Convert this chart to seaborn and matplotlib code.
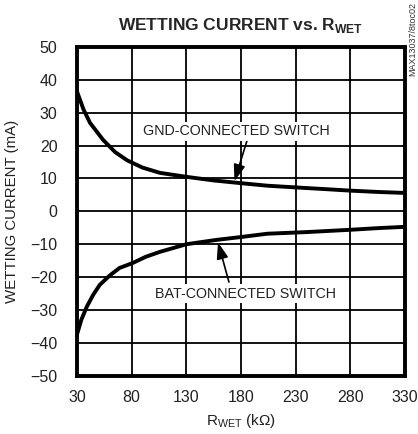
import numpy as np
import pandas as pd
import matplotlib
matplotlib.use("Agg")
import matplotlib.pyplot as plt
import seaborn as sns

# values
r_gnd = [30, 36, 42, 54, 65, 76, 90, 106, 130, 155, 179, 204, 234, 260, 280, 305, 330]
i_gnd = [36.5, 31.0, 26.9, 21.7, 18.0, 15.5, 13.3, 11.7, 10.5, 9.4, 8.6, 7.8, 7.2, 6.7, 6.3, 5.9, 5.6]
r_bat = [30, 34, 39, 45, 51, 60, 69, 81, 93, 106, 130, 157, 180, 204, 240, 280, 305, 330]
i_bat = [-37.5, -33.0, -29.0, -25.3, -22.3, -19.5, -17.2, -15.7, -13.8, -12.3, -10.0, -8.7, -7.8, -6.8, -6.3, -5.6, -5.1, -4.7]

x_ticks = [30, 80, 130, 180, 230, 280, 330]
y_ticks = list(range(-50, 51, 10))

sns.set_style("white")
plt.rcParams['font.family'] = ['Liberation Sans', 'DejaVu Sans']
plt.rcParams['mathtext.fontset'] = 'custom'
plt.rcParams['mathtext.rm'] = 'Liberation Sans'

df = pd.concat([
    pd.DataFrame({'r': r_gnd, 'i': i_gnd, 'sw': 'GND'}),
    pd.DataFrame({'r': r_bat, 'i': i_bat, 'sw': 'BAT'}),
])

fig = plt.figure(figsize=(4.18, 4.34), dpi=100)
ax = fig.add_axes([0.184, 0.134, 0.785, 0.758])

sns.lineplot(data=df, x='r', y='i', units='sw', estimator=None, color='black',
             linewidth=2.8, ax=ax, zorder=3)

ax.set_xlim(30, 330)
ax.set_ylim(-50, 50)
ax.set_xticks(x_ticks)
ax.set_yticks(y_ticks)
ax.grid(True, color='black', linewidth=1.3)
ax.set_axisbelow(True)
for s in ax.spines.values():
    s.set_linewidth(2.8)
    s.set_color('black')
ax.tick_params(axis='both', length=0, labelsize=11.5, colors='#222222')
ax.tick_params(axis='x', pad=10)
ax.tick_params(axis='y', pad=14)

ax.set_xlabel(r'R$_{\mathregular{WET}}$ (k$\Omega$)', fontsize=11, color='#222222', labelpad=5)
ax.set_ylabel('WETTING CURRENT (mA)', fontsize=10.8, color='#222222', labelpad=8)
ax.set_title(r'WETTING CURRENT vs. R$_{\mathregular{WET}}$', fontsize=12.5, fontweight='bold', pad=12)

box = dict(boxstyle='square,pad=0.15', facecolor='white', edgecolor='none')
arrow = dict(arrowstyle='-|>,head_length=1.0,head_width=0.35', color='black', lw=1.2,
             shrinkA=0, shrinkB=0)
ax.annotate('', xy=(174, 9.2), xytext=(186, 22.0), arrowprops=arrow, zorder=4)
ax.text(176, 24.3, 'GND-CONNECTED SWITCH', ha='center', va='center', fontsize=10.3,
        color='#222222', bbox=box, zorder=5)
ax.annotate('', xy=(159, -9.4), xytext=(169, -21.5), arrowprops=arrow, zorder=4)
ax.text(184, -25.0, 'BAT-CONNECTED SWITCH', ha='center', va='center', fontsize=10.3,
        color='#222222', bbox=box, zorder=5)

fig.text(0.987, 0.995, 'MAX13037/8toc02', rotation=90, ha='center', va='top', fontsize=6.5,
         color='#333333')

fig.savefig('out.png', dpi=100)
